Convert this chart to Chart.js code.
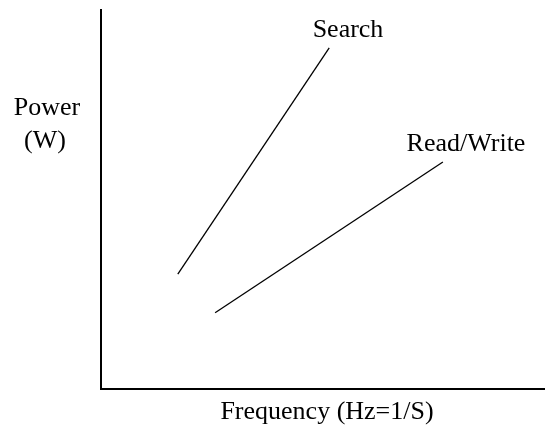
<!DOCTYPE html>
<html lang="en">
<head>
    <meta charset="UTF-8">
    <title>Power vs Frequency</title>
    <script src="https://cdn.jsdelivr.net/npm/chart.js"></script>
    <style>
        html, body { margin: 0; padding: 0; background: #fff; }
        #wrap { width: 545px; height: 425px; }
    </style>
</head>
<body>
<div id="wrap"><canvas id="powerChart" width="545" height="425"></canvas></div>
<script>
// series data (arbitrary units, axes run 0..100)
const searchX = [17.3, 51.4];
const searchY = [30.3, 90.0];
const rwX = [25.7, 77.0];
const rwY = [20.1, 59.9];

// text labels
const seriesNames = ["Search", "Read/Write"];
const yTitle = ["Power", "(W)"];
const xTitle = "Frequency (Hz=1/S)";

const toPoints = (xs, ys) => xs.map((x, i) => ({ x: x, y: ys[i] }));

// draws the free-floating labels around the plot
const labelPlugin = {
    id: "labels",
    afterDraw(chart) {
        const ctx = chart.ctx;
        ctx.save();
        ctx.fillStyle = "#000";
        ctx.font = "26px 'Liberation Serif'";
        ctx.textAlign = "center";
        ctx.textBaseline = "alphabetic";
        ctx.fillText(seriesNames[0], 348, 37);
        ctx.fillText(seriesNames[1], 466, 151);
        ctx.fillText(yTitle[0], 47, 115);
        ctx.fillText(yTitle[1], 45, 148);
        ctx.fillText(xTitle, 327, 419);
        ctx.restore();
    }
};

const ctx = document.getElementById("powerChart").getContext("2d");
new Chart(ctx, {
    type: "scatter",
    data: {
        datasets: [{
            label: seriesNames[0],
            data: toPoints(searchX, searchY),
            showLine: true,
            borderColor: "#000",
            borderWidth: 1.3,
            pointRadius: 0
        }, {
            label: seriesNames[1],
            data: toPoints(rwX, rwY),
            showLine: true,
            borderColor: "#000",
            borderWidth: 1.3,
            pointRadius: 0
        }]
    },
    options: {
        responsive: false,
        animation: false,
        layout: { padding: { left: 93, top: 10, right: 0, bottom: 28 } },
        plugins: {
            legend: { display: false },
            tooltip: { enabled: false }
        },
        scales: {
            x: {
                min: 0, max: 100,
                grid: { display: false },
                ticks: { display: false },
                border: { display: true, color: "#000", width: 2 }
            },
            y: {
                min: 0, max: 100,
                grid: { display: false },
                ticks: { display: false },
                border: { display: true, color: "#000", width: 2 }
            }
        }
    },
    plugins: [labelPlugin]
});
</script>
</body>
</html>
